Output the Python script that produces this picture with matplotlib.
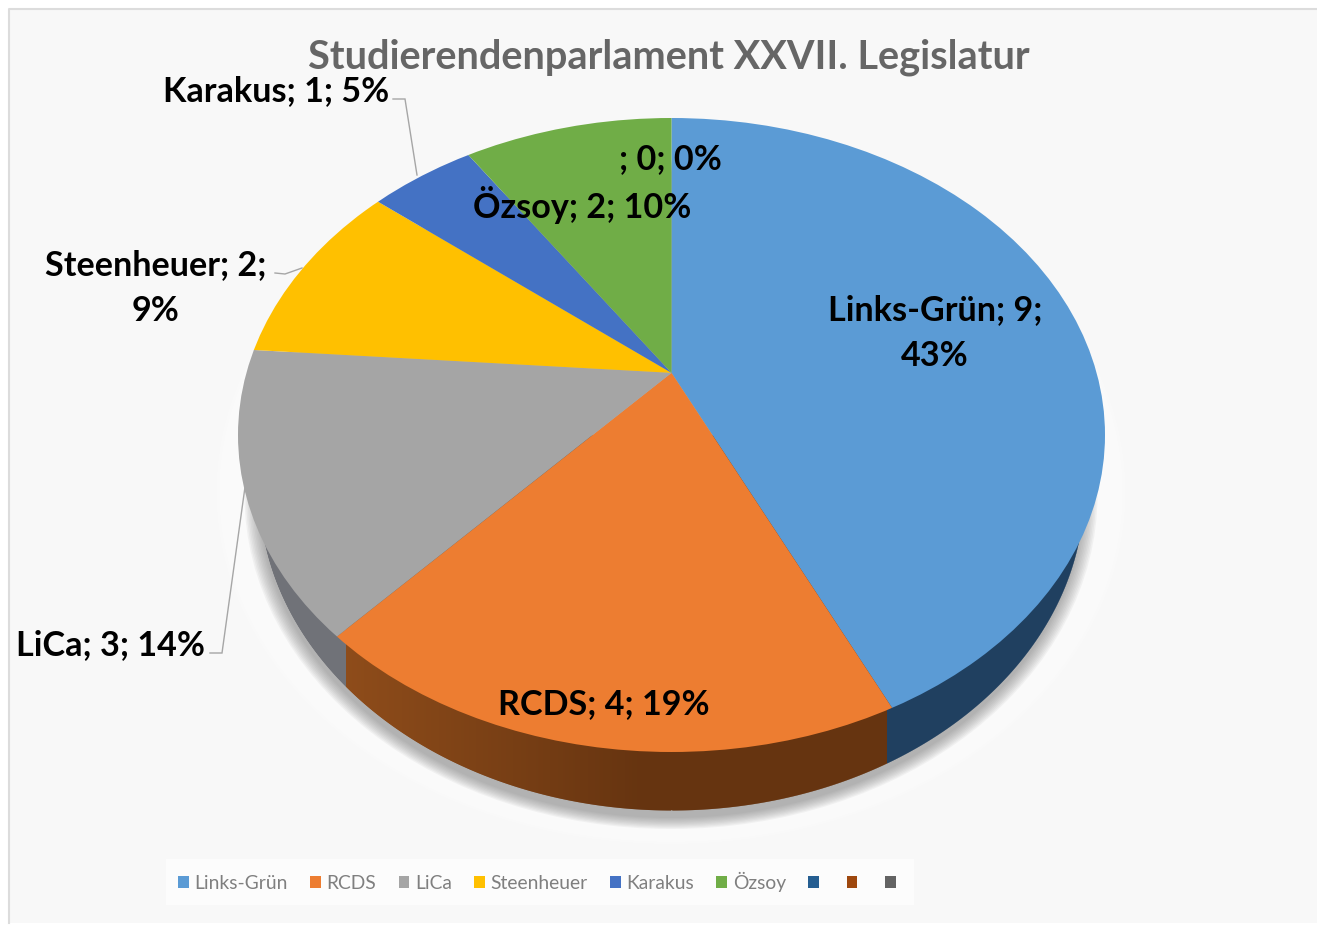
import numpy as np
import matplotlib
matplotlib.use("Agg")
import matplotlib.pyplot as plt
from matplotlib.patches import Circle, Ellipse, Rectangle

W, H = 1317, 925
categories = ["Links-Grün", "RCDS", "LiCa", "Steenheuer", "Karakus", "Özsoy", "", "", ""]
values = [9, 4, 3, 2, 1, 2, 0, 0, 0]
percents = [43, 19, 14, 9, 5, 10, 0, 0, 0]
colors = ["#5B9BD5", "#ED7D31", "#A5A5A5", "#FFC000", "#4472C4", "#70AD47", "#255E91", "#9E480E", "#636363"]
title = "Studierendenparlament XXVII. Legislatur"
FONT = "Lato"

fig = plt.figure(figsize=(W / 100, H / 100), dpi=100, facecolor="white")

# pixel-space canvas
bg = fig.add_axes([0, 0, 1, 1], zorder=0)
bg.set_xlim(0, W); bg.set_ylim(H, 0); bg.axis("off")
bg.add_patch(Rectangle((9, 9), W - 9, H - 9 - 2, fc="#F8F8F8", ec="none"))
bg.plot([9, 9, W], [H - 2, 9, 9], color="#DCDCDC", lw=1.5)

# shadow / halo under the pie
cx, cy, bx, by = 671, 490, 412.5, 320
for i in range(16):
    g = i / 15
    bg.add_patch(Ellipse((cx, cy + 2), 2 * (bx + 42 - 40 * g), 2 * (by + 32 - 30 * g),
                         fc="white", ec="none", alpha=0.2))
for i in range(10):
    g = i / 9
    bg.add_patch(Ellipse((cx, cy + 5), 2 * (bx + 14 - 14 * g), 2 * (by + 14 - 11 * g),
                         fc="#707070", ec="none", alpha=0.065))

# side wall drawn as vertical strips of a smaller lower ellipse
vals = np.array(values, float)
cum = np.cumsum(vals) / vals.sum() * 360
def rim_x(theta):
    """x (normalised) where a ray from the apex at angle theta meets the top rim."""
    t = np.radians(theta)
    d = np.array([np.sin(t), np.cos(t)])
    p = np.array([0.0, 0.196])
    b = p @ d
    s = -b + np.sqrt(b * b - (p @ p - 1))
    return (p + s * d)[0]

TX, TA = 671.5, 433.5
x_blue = TX + rim_x(cum[0]) * TA * 0.975
x_grey = TX + rim_x(cum[1]) * TA * 0.975
xs = np.arange(cx - bx, cx + bx + 1.0, 1.0)
for x0, x1 in zip(xs[:-1], xs[1:]):
    xm = (x0 + x1) / 2
    yb = lambda x: cy + by * np.sqrt(max(0, 1 - ((x - cx) / bx) ** 2))
    if xm > x_blue:
        c = np.array([0x20, 0x40, 0x60])
    elif xm > x_grey:
        f = min(1, (xm - x_grey) / (x_blue - x_grey) / 0.55)
        c = np.array([0x8E, 0x4C, 0x1A]) * (1 - f) + np.array([0x66, 0x34, 0x10]) * f
    else:
        c = np.array([0x70, 0x72, 0x78])
    bg.fill_between([x0, x1 + 0.5], 435, [yb(x0), yb(x1)], color=c / 255, lw=0)

# top face: pie with offset apex, clipped by the rim ellipse
ax = fig.add_axes([238 / W, 1 - 752 / H, 867 / W, 634 / H], zorder=1)
wedges, _ = ax.pie(vals, colors=colors, startangle=90, counterclock=False,
                   center=(0, 0.196), radius=3, wedgeprops=dict(lw=0))
ax.set_aspect("auto"); ax.set_xlim(-1, 1); ax.set_ylim(-1, 1); ax.axis("off")
ax.patch.set_alpha(0)
rim = Circle((0, 0), 1, transform=ax.transData)
for w in wedges:
    w.set_clip_on(True)
    w.set_clip_path(rim)

# overlay for text
fg = fig.add_axes([0, 0, 1, 1], zorder=2)
fg.set_xlim(0, W); fg.set_ylim(H, 0); fg.axis("off"); fg.patch.set_alpha(0)

fg.text(669, 57, title, ha="center", va="center", fontsize=28.6, fontweight="bold",
        color="#666666", family=FONT)

def lab(i, name=None):
    return f"{categories[i] if name is None else name}; {values[i]}; {percents[i]}%"

LAB = dict(ha="center", va="center", fontsize=24.6, fontweight="bold", color="black",
           family=FONT, linespacing=1.55)
fg.text(935, 333, "Links-Grün; 9;\n43%", **LAB)
fg.text(604, 704, lab(1), **LAB)
fg.text(110, 645, lab(2), **LAB)
fg.text(156, 288, "Steenheuer; 2;\n9%", **LAB)
fg.text(276, 91, lab(4), **LAB)
fg.text(582, 205, lab(5), **LAB)
fg.text(670, 159, lab(6), **LAB)

leader = "#A6A6A6"
for xx, yy in [((393, 405, 417), (99, 99, 175)),
               ((275, 285, 302), (273, 274, 268)),
               ((210, 222, 245), (653, 653, 487))]:
    fg.plot(xx, yy, color=leader, lw=1, solid_joinstyle="miter")

# legend
leg = fg.legend(wedges, categories, loc="center", bbox_to_anchor=(540 / W, 1 - 882 / H),
                bbox_transform=fig.transFigure, ncols=9, frameon=True, facecolor="#FCFCFC",
                edgecolor="none", framealpha=1, fancybox=False, handlelength=0.55, handleheight=0.55,
                handletextpad=0.3, columnspacing=1.15, borderpad=0.65,
                prop=dict(family=FONT, size=13.9))
for t in leg.get_texts():
    t.set_color("#7F7F7F")

fig.savefig("out.png", dpi=100, facecolor="white")
